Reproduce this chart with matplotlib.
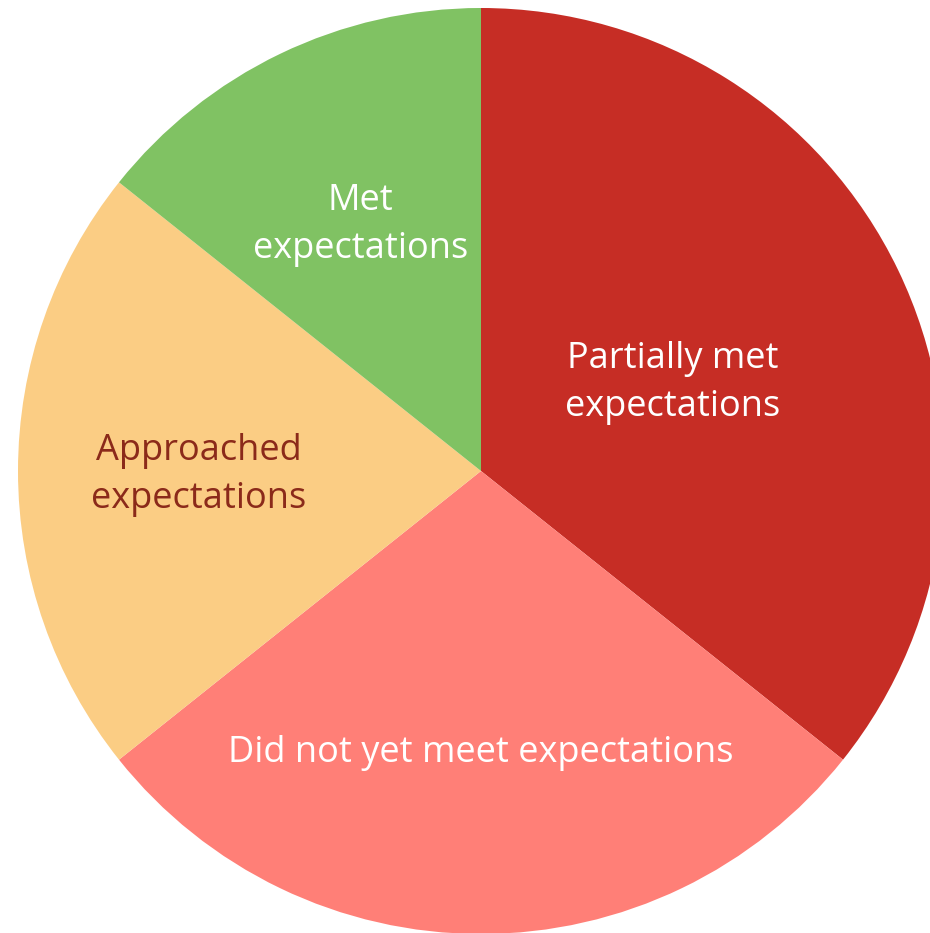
import numpy as np
import matplotlib

matplotlib.use("Agg")
import matplotlib.pyplot as plt

plt.rcParams["font.family"] = ["Open Sans", "DejaVu Sans"]

labels = [
    "Partially met\nexpectations",
    "Did not yet meet expectations",
    "Approached\nexpectations",
    "Met\nexpectations",
]
values = [5, 4, 3, 2]
colors = ["#C62D25", "#FF7F77", "#FBCD84", "#80C263"]
text_colors = ["white", "white", "#8B2A1A", "white"]
label_radius = [0.46, 0.60, 0.61, 0.60]

W, H = 930, 933
fig = plt.figure(figsize=(W / 100, H / 100), dpi=100)
ax = fig.add_axes([0, 0, 1, 1])

cx, cy, r = 481, H - 471, 463
wedges, _ = ax.pie(values, colors=colors, startangle=90, counterclock=False,
                   center=(cx, cy), radius=r, frame=True,
                   wedgeprops=dict(linewidth=0))

for w, lab, tc, lr in zip(wedges, labels, text_colors, label_radius):
    mid = np.deg2rad((w.theta1 + w.theta2) / 2)
    x = cx + lr * r * np.cos(mid)
    y = cy + lr * r * np.sin(mid)
    ax.text(x, y - 4, lab, ha="center", va="center", color=tc, fontsize=26,
            linespacing=1.45)

ax.set_xlim(0, W)
ax.set_ylim(0, H)
ax.set_aspect("equal")
ax.axis("off")
fig.savefig("out.png", dpi=100)
